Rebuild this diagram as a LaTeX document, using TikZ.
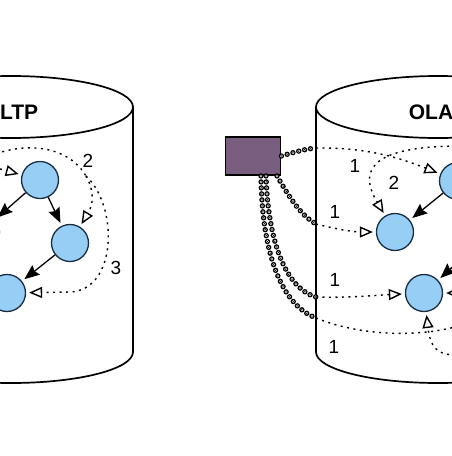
\documentclass[tikz,border=0pt]{standalone}
\usepackage{fontspec}
\setmainfont{Liberation Sans}
\usepackage{tikz}
\usetikzlibrary{arrows.meta,positioning}
\definecolor{qblue}{RGB}{150,206,246}
\definecolor{qedge}{RGB}{25,45,65}
\definecolor{cpurple}{RGB}{122,94,128}
\tikzstyle{qnode} = [circle, minimum size=37pt, inner sep=0pt, draw=qedge, fill=qblue, line width=1.3pt]
\tikzstyle{client} = [rectangle, minimum width=55pt, minimum height=38pt, draw=black, fill=cpurple, line width=1.8pt]
\tikzstyle{flow} = [line width=1.3pt, -{Stealth[length=15pt,width=12pt,inset=2pt]}, shorten >=3pt]
\tikzstyle{query} = [line width=1.4pt, dash pattern=on 2pt off 4.5pt, -{Triangle[open,fill=white,length=13pt,width=11pt,line width=1.4pt]}, shorten >=3pt]
\tikzstyle{queryline} = [line width=1.4pt, dash pattern=on 2pt off 4.5pt]
\tikzstyle{beads} = [draw=white, line width=2.8pt, line cap=round, dash pattern=on 0pt off 6pt,
  preaction={draw=black, line width=5.4pt, line cap=round, dash pattern=on 0pt off 6pt},
  postaction={draw=black, line width=1.4pt, line cap=round, dash pattern=on 0pt off 6pt}]
\tikzstyle{cyl} = [line width=1.7pt]
\tikzstyle{title} = [font=\fontsize{21}{21}\selectfont\bfseries]
\tikzstyle{num} = [font=\fontsize{19}{19}\selectfont]

\begin{document}
\begin{tikzpicture}[x=1pt, y=-1pt]
\clip (0,0) rectangle (452,456);
% Cylinders
\draw[cyl] (11,107) ellipse [x radius=122, y radius=31];
\draw[cyl] (133,107) -- (133,352) arc[start angle=0, end angle=180, x radius=122, y radius=31];
\draw[cyl] (438,107) ellipse [x radius=122, y radius=31];
\draw[cyl] (316,107) -- (316,352) arc[start angle=180, end angle=0, x radius=122, y radius=31];
\node[title] (oltp) at (11,112) {OLTP};
\node[title] (olap) at (438,112) {OLAP};

% OLTP side
\node[qnode] (t1) at (40,180) {};
\node[qnode] (t2) at (70,243) {};
\node[qnode] (t3) at (7,293) {};
\node[qnode] (t0) at (-19,232) {};
\coordinate (o1) at (-25,162);
\coordinate (o2) at (-10,156);
\coordinate (fork) at (86,176);

% OLAP side
\node[qnode] (q1) at (395,232) {};
\node[qnode] (q2) at (458,181) {};
\node[qnode] (q3) at (424,293) {};
\node[qnode] (q4) at (482,240) {};
\coordinate (e2) at (462,146);
\coordinate (e4) at (462,325);
\coordinate (e5) at (462,354);
\coordinate (e6) at (462,293);

% Client box and wall points
\node[client] (bi) at (253,156) {};
\coordinate (w1) at (316,148);
\coordinate (w2) at (316,224);
\coordinate (w3) at (316,297);
\coordinate (w4) at (316,318);

% Arrows
\draw[flow] (t1) -- (t2);
\draw[flow] (t1) -- (t0);
\draw[flow] (t2) -- (t3);
\draw[flow] (q2) -- (q1);
\draw[flow] (q4) -- (q3);

% Queries on OLTP
\draw[query] (o1) -- (t1);
\draw[queryline] (o2) .. controls (30,140) and (70,148) .. (fork);
\draw[query] (fork) .. controls (95,192) and (93,205) .. (t2);
\draw[query] (fork) .. controls (118,205) and (118,290) .. (70,292) -- (t3);

% Queries on OLAP
\draw[beads] (bi.east) .. controls (295,152) and (305,149) .. (w1);
\draw[beads] ([xshift=24pt]bi.south) .. controls (288,195) and (300,215) .. (w2);
\draw[beads] ([xshift=13pt]bi.south) .. controls (268,240) and (285,288) .. (w3);
\draw[beads] ([xshift=8pt]bi.south) .. controls (262,255) and (282,305) .. (w4);
\draw[query] (w1) .. controls (370,147) and (405,160) .. (q2);
\draw[query] (w2) .. controls (340,230) and (355,232) .. (q1);
\draw[query] (w3) .. controls (350,298) and (380,295) .. (q3);
\draw[queryline] (w4) .. controls (360,336) and (420,338) .. (e4);
\draw[query] (e2) .. controls (380,146) and (355,165) .. (q1);
\draw[query] (e5) .. controls (436,358) and (430,345) .. (q3);
\draw[query] (e6) -- (q3);

% Labels
\node[num] (n2) at (88,161) {2};
\node[num] (n3) at (116,268) {3};
\node[num] (m1) at (355,166) {1};
\node[num] (m2) at (394,183) {2};
\node[num] (m3) at (335,212) {1};
\node[num] (m4) at (335,280) {1};
\node[num] (m5) at (334,347) {1};
\end{tikzpicture}
\end{document}
